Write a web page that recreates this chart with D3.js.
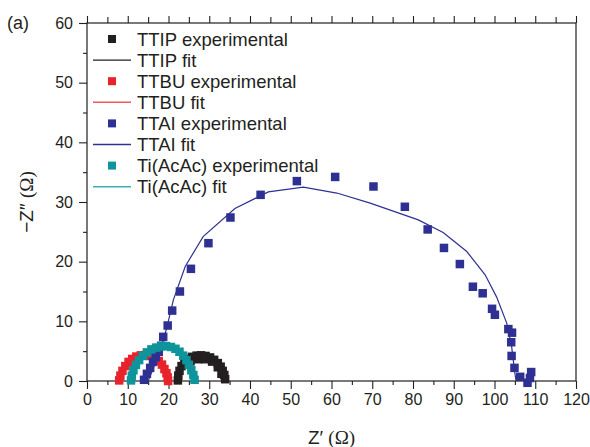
<!DOCTYPE html>
<html>
<head>
<meta charset="utf-8">
<script src="https://cdn.jsdelivr.net/npm/d3@7"></script>
<style>
  body { margin: 0; background: #fff; }
  svg { display: block; font-family: "Liberation Sans", Arial, sans-serif; }
</style>
</head>
<body>
<svg id="chart" width="590" height="447"></svg>
<script>
  "use strict";

  // data, [Z', -Z'']
  var ttipExp = [[22.3,0.1],[22.4,0.9],[22.7,1.7],[23.2,2.5],[23.9,3.2],[24.8,3.7],[25.8,4.05],[26.9,4.25],[28.0,4.3],[29.1,4.2],[30.2,3.95],[31.2,3.55],[32.1,3.0],[32.8,2.4],[33.3,1.7],[33.7,1.0],[33.9,0.3],
                 [25.4,3.3],[27.2,3.65],[29.0,3.65],[30.7,3.25],[32.1,2.3],[33.0,1.2]];
  var ttipFit = [[22.3,0],[22.8,2.0],[24.3,3.5],[27.2,4.1],[30.3,3.8],[32.5,2.6],[33.8,0.8],[34.0,0]];
  var ttbuExp = [[7.9,0.1],[8.2,0.9],[8.7,1.7],[9.4,2.5],[10.2,3.2],[11.1,3.7],[12.1,4.1],[13.2,4.3],[14.4,4.35],[15.6,4.2],[16.7,3.85],[17.6,3.35],[18.4,2.75],[19.0,2.0],[19.5,1.3],[19.8,0.6],[19.9,0.0]];
  var ttbuFit = [[7.9,0],[8.6,1.8],[10.5,3.4],[13.5,4.3],[16.5,3.9],[18.6,2.5],[19.8,0.5],[19.9,0]];
  var ttaiExp = [[14.0,0.2],[14.7,1.2],[15.5,2.2],[16.2,3.2],[16.9,4.0],[17.6,4.9],[18.2,5.9],[18.7,7.4],[19.8,9.3],[20.9,11.8],[22.8,15.0],[25.5,18.8],[29.8,23.1],[35.2,27.4],[42.6,31.2],[51.5,33.5],[60.9,34.2],[70.3,32.6],[78.0,29.2],[83.6,25.4],[87.6,22.3],[91.5,19.6],[94.7,15.8],[97.1,14.7],[99.4,12.1],[100.1,11.1],[103.4,8.7],[104.3,8.1],[104.1,6.5],[104.2,4.2],[104.9,2.2],[106.3,0.7],[108.1,-0.3],[109.0,1.5],[108.7,0.5]];
  var ttaiFit = [[15.0,0],[16.2,2.0],[17.3,4.0],[18.3,5.8],[19.6,9.0],[21.2,13.6],[24.1,19.2],[28.5,24.2],[36.3,28.9],[44.5,31.7],[53.1,32.5],[61.3,31.5],[69.5,29.8],[81.3,27.0],[87.4,24.9],[93.2,21.7],[97.7,17.8],[100.5,14.1],[103.0,9.7],[104.2,5.8],[105.0,1.3],[105.3,0]];
  var tiExp = [[10.8,0.1],[11.0,0.9],[11.4,1.8],[12.0,2.7],[12.8,3.5],[13.7,4.2],[14.7,4.8],[15.8,5.3],[17.0,5.6],[18.2,5.8],[19.4,5.85],[20.6,5.7],[21.7,5.4],[22.7,4.9],[23.6,4.25],[24.4,3.5],[25.0,2.7],[25.6,1.8],[26.1,1.0],[26.4,0.2]];
  var tiFit = [[10.8,0],[11.5,2.0],[13.5,4.0],[16.5,5.4],[19.4,5.8],[22.4,5.0],[24.6,3.3],[25.9,1.2],[26.3,0]];

  var seriesNames = ["TTIP", "TTBU", "TTAI", "Ti(AcAc)"];
  var seriesColors = ["#231f20", "#e8232b", "#2e3192", "#0e959b"];
  var fitColors = ["#231f20", "#ee5a5f", "#2e3192", "#3ab2b6"];
  var expData = [ttipExp, ttbuExp, ttaiExp, tiExp];
  var fitData = [ttipFit, ttbuFit, ttaiFit, tiFit];

  var xTicks = d3.range(0, 121, 10);
  var yTicks = d3.range(0, 61, 10);

  var ink = "#231f20";
  var svg = d3.select("#chart");
  var plotL = 87, plotR = 576, plotT = 23, plotB = 381;

  var x = d3.scaleLinear().domain([0, 120]).range([plotL, plotR]);
  var y = d3.scaleLinear().domain([0, 60]).range([plotB, plotT]);

  function styleAxis(g) {
    g.selectAll("path").remove();
    g.selectAll("line").attr("stroke", ink).attr("stroke-width", 1.1);
    g.selectAll("text").attr("fill", ink).style("font-size", "16px")
      .style("font-family", '"Liberation Sans", Arial, sans-serif');
  }

  //---ejes ---
  svg.append("g").attr("transform", "translate(0," + plotB + ")")
    .call(d3.axisBottom(x).tickValues(xTicks).tickSize(8).tickPadding(5).tickFormat(d3.format("d")))
    .call(styleAxis);
  svg.append("g").attr("transform", "translate(0," + plotB + ")")
    .call(d3.axisBottom(x).tickValues(d3.range(5, 120, 10)).tickSize(4).tickFormat(""))
    .call(styleAxis);
  svg.append("g").attr("transform", "translate(0," + plotT + ")")
    .call(d3.axisTop(x).tickValues(xTicks).tickSize(7).tickFormat(""))
    .call(styleAxis);
  svg.append("g").attr("transform", "translate(0," + plotT + ")")
    .call(d3.axisTop(x).tickValues(d3.range(5, 120, 10)).tickSize(6).tickFormat(""))
    .call(styleAxis);
  svg.append("g").attr("transform", "translate(" + plotL + ",0)")
    .call(d3.axisLeft(y).tickValues(yTicks).tickSize(8).tickPadding(6).tickFormat(d3.format("d")))
    .call(styleAxis);
  svg.append("g").attr("transform", "translate(" + plotL + ",0)")
    .call(d3.axisLeft(y).tickValues(d3.range(5, 60, 10)).tickSize(4).tickFormat(""))
    .call(styleAxis);

  svg.append("rect")
    .attr("x", plotL).attr("y", plotT)
    .attr("width", plotR - plotL).attr("height", plotB - plotT)
    .attr("fill", "none").attr("stroke", ink).attr("stroke-width", 1.2);

  // titulos
  var xt = svg.append("text").attr("x", (plotL + plotR) / 2).attr("y", 444)
    .attr("text-anchor", "middle").attr("fill", ink).style("font-size", "19px");
  xt.append("tspan").text("Z\u2032 ");
  xt.append("tspan").style("font-family", '"Liberation Serif", serif').text("(\u03A9)");

  var yt = svg.append("text").attr("transform", "translate(33," + (plotT + plotB) / 2 + ") rotate(-90)")
    .attr("text-anchor", "middle").attr("fill", ink).style("font-size", "19px");
  yt.append("tspan").text("\u2212Z\u2033 ");
  yt.append("tspan").style("font-family", '"Liberation Serif", serif').text("(\u03A9)");

  svg.append("text").attr("x", 7).attr("y", 29).attr("fill", ink)
    .style("font-size", "18px").text("(a)");

  //---series ---
  var line = d3.line().x(function (d) { return x(d[0]); }).y(function (d) { return y(d[1]); });
  var ms = 8.5;

  seriesNames.forEach(function (name, i) {
    var g = svg.append("g").attr("class", "series");
    g.selectAll("rect")
      .data(expData[i])
      .enter()
      .append("rect")
      .attr("x", function (d) { return x(d[0]) - ms / 2; })
      .attr("y", function (d) { return y(d[1]) - ms / 2; })
      .attr("width", ms).attr("height", ms)
      .attr("fill", seriesColors[i]);
    g.append("path")
      .attr("d", line(fitData[i]))
      .attr("fill", "none")
      .attr("stroke", seriesColors[i])
      .attr("stroke-width", 1.2);
  });

  //---leyenda ---
  var legendRows = [];
  seriesNames.forEach(function (name, i) {
    legendRows.push({ label: name + " experimental", kind: "exp", color: seriesColors[i] });
    legendRows.push({ label: name + " fit", kind: "fit", color: fitColors[i] });
  });

  var lg = svg.append("g").attr("class", "legend");
  var row = lg.selectAll("g").data(legendRows).enter().append("g")
    .attr("transform", function (d, i) { return "translate(0," + (39 + i * 21.1) + ")"; });

  row.filter(function (d) { return d.kind === "exp"; })
    .append("rect")
    .attr("x", 112 - 4).attr("y", -4)
    .attr("width", 8).attr("height", 8)
    .attr("fill", function (d) { return d.color; });

  row.filter(function (d) { return d.kind === "fit"; })
    .append("line")
    .attr("x1", 93).attr("x2", 131).attr("y1", 0).attr("y2", 0)
    .attr("stroke", function (d) { return d.color; })
    .attr("stroke-width", 1.4);

  row.append("text")
    .attr("x", 137).attr("y", 6.5)
    .attr("fill", ink)
    .style("font-size", "18.5px")
    .text(function (d) { return d.label; });
</script>
</body>
</html>
